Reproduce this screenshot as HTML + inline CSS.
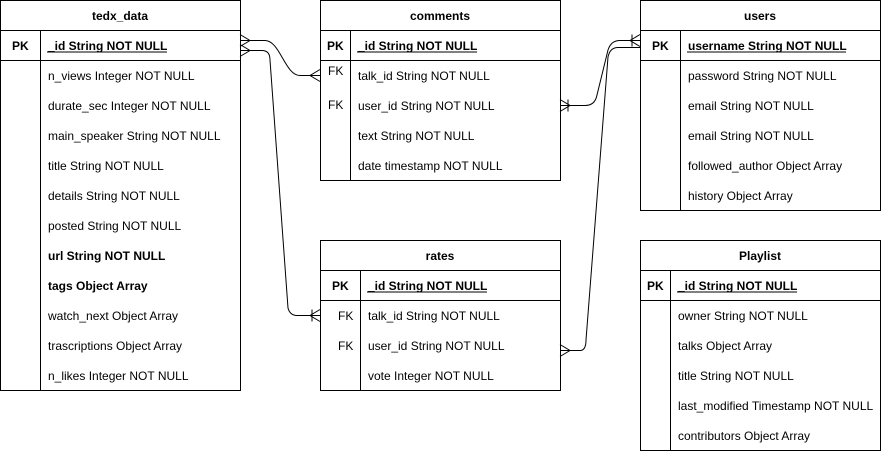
<!DOCTYPE html>
<html><head><meta charset="utf-8"><style>
body{margin:0;background:#fff;width:882px;height:452px;overflow:hidden}
svg text{font-family:"Liberation Sans",Arial,sans-serif;font-size:12px;fill:#000}
.h{font-weight:bold;text-anchor:middle}
.b{font-weight:bold}
</style></head><body>
<svg width="882" height="452" xmlns="http://www.w3.org/2000/svg">
<g fill="none" stroke="#000" stroke-width="1">
<!-- tedx_data -->
<rect x="0.5" y="0.5" width="240" height="390"/>
<line x1="0.5" y1="30.5" x2="240.5" y2="30.5"/>
<line x1="0.5" y1="60.5" x2="240.5" y2="60.5"/>
<line x1="40.5" y1="30.5" x2="40.5" y2="390.5"/>
<!-- comments -->
<rect x="320.5" y="0.5" width="240" height="180"/>
<line x1="320.5" y1="30.5" x2="560.5" y2="30.5"/>
<line x1="320.5" y1="60.5" x2="560.5" y2="60.5"/>
<line x1="350.5" y1="30.5" x2="350.5" y2="180.5"/>
<!-- users -->
<rect x="640.5" y="0.5" width="240" height="210"/>
<line x1="640.5" y1="30.5" x2="880.5" y2="30.5"/>
<line x1="640.5" y1="60.5" x2="880.5" y2="60.5"/>
<line x1="680.5" y1="30.5" x2="680.5" y2="210.5"/>
<!-- rates -->
<rect x="320.5" y="240.5" width="240" height="150"/>
<line x1="320.5" y1="270.5" x2="560.5" y2="270.5"/>
<line x1="320.5" y1="300.5" x2="560.5" y2="300.5"/>
<line x1="360.5" y1="270.5" x2="360.5" y2="390.5"/>
<!-- Playlist -->
<rect x="640.5" y="240.5" width="240" height="210"/>
<line x1="640.5" y1="270.5" x2="880.5" y2="270.5"/>
<line x1="640.5" y1="300.5" x2="880.5" y2="300.5"/>
<line x1="670.5" y1="270.5" x2="670.5" y2="450.5"/>
<!-- connectors -->
<path d="M240,40.5 H265 C280,40.5 285,75.5 300,75.5 H320"/>
<path d="M240,50.5 H262 Q270,50.5 270,60 L288,308 Q290,315.5 297,315.5 H320"/>
<path d="M560,105.5 H585 Q595,105.5 597,95 L608,50 Q611,40.5 620,40.5 H640"/>
<path d="M560,350.5 H580 Q586,350.5 586,340 L608,57 Q610,47.5 618,47.5 H640"/>
<!-- crow feet -->
<path d="M240,34.5 L250,40.5 L240,46.5"/>
<path d="M240,44.5 L250,50.5 L240,56.5"/>
<path d="M320,69.5 L310,75.5 L320,81.5"/>
<path d="M320,309.5 L310,315.5 L320,321.5 M312,309.5 V321.5"/>
<path d="M560,99.5 L570,105.5 L560,111.5 M568,99.5 V111.5"/>
<path d="M640,34.5 L630,40.5 L640,46.5 M632,34.5 V46.5"/>
<path d="M560,344.5 L570,350.5 L560,356.5"/>
</g>
<line x1="47" y1="52" x2="167" y2="52" stroke="#000"/>
<line x1="357" y1="52" x2="477" y2="52" stroke="#000"/>
<line x1="687" y1="52" x2="846" y2="52" stroke="#000"/>
<line x1="367" y1="292" x2="487" y2="292" stroke="#000"/>
<line x1="677" y1="292" x2="797" y2="292" stroke="#000"/>

<text class="h" x="120" y="20">tedx_data</text>
<text class="b" x="12" y="50">PK</text>
<text class="b" x="48" y="50">_id String NOT NULL</text>
<text x="48" y="80">n_views Integer NOT NULL</text>
<text x="48" y="110">durate_sec Integer NOT NULL</text>
<text x="48" y="140">main_speaker String NOT NULL</text>
<text x="48" y="170">title String NOT NULL</text>
<text x="48" y="200">details String NOT NULL</text>
<text x="48" y="230">posted String NOT NULL</text>
<text class="b" x="48" y="260">url String NOT NULL</text>
<text class="b" x="48" y="290">tags Object Array</text>
<text x="48" y="320">watch_next Object Array</text>
<text x="48" y="350">trascriptions Object Array</text>
<text x="48" y="380">n_likes Integer NOT NULL</text>

<text class="h" x="440" y="20">comments</text>
<text class="b" x="327" y="50">PK</text>
<text class="b" x="358" y="50">_id String NOT NULL</text>
<text x="328" y="75">FK</text>
<text x="358" y="80">talk_id String NOT NULL</text>
<text x="328" y="109">FK</text>
<text x="358" y="110">user_id String NOT NULL</text>
<text x="358" y="140">text String NOT NULL</text>
<text x="358" y="170">date timestamp NOT NULL</text>

<text class="h" x="760" y="20">users</text>
<text class="b" x="652" y="50">PK</text>
<text class="b" x="688" y="50">username String NOT NULL</text>
<text x="688" y="80">password String NOT NULL</text>
<text x="688" y="110">email String NOT NULL</text>
<text x="688" y="140">email String NOT NULL</text>
<text x="688" y="170">followed_author Object Array</text>
<text x="688" y="200">history Object Array</text>

<text class="h" x="440" y="260">rates</text>
<text class="b" x="332" y="290">PK</text>
<text class="b" x="368" y="290">_id String NOT NULL</text>
<text x="338" y="320">FK</text>
<text x="368" y="320">talk_id String NOT NULL</text>
<text x="338" y="350">FK</text>
<text x="368" y="350">user_id String NOT NULL</text>
<text x="368" y="380">vote Integer NOT NULL</text>

<text class="h" x="760" y="260">Playlist</text>
<text class="b" x="647" y="290">PK</text>
<text class="b" x="678" y="290">_id String NOT NULL</text>
<text x="678" y="320">owner String NOT NULL</text>
<text x="678" y="350">talks Object Array</text>
<text x="678" y="380">title String NOT NULL</text>
<text x="678" y="410">last_modified Timestamp NOT NULL</text>
<text x="678" y="440">contributors Object Array</text>
</svg>
</body></html>
